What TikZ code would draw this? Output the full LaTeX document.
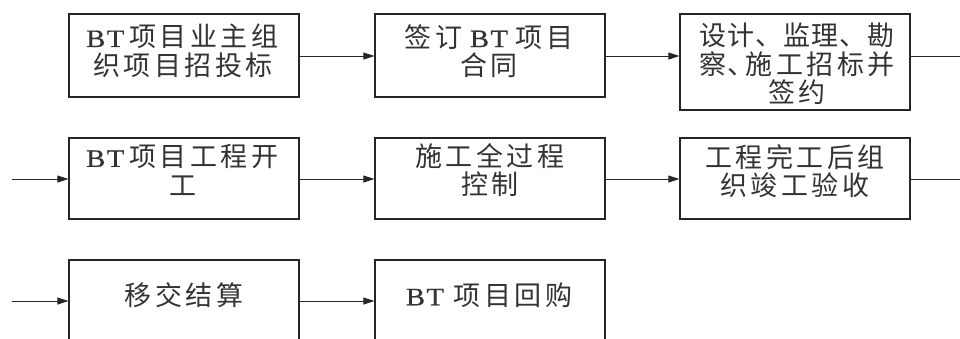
\documentclass[tikz,border=0pt]{standalone}
\usepackage{fontspec}
\setmainfont{Liberation Serif}
\newfontfamily\cjk{Noto Sans CJK SC}
\newfontfamily\btfont[FakeStretch=1.15,FakeBold=0.6]{Liberation Serif}
\usetikzlibrary{arrows.meta}
\newlength\pitch
\setlength\pitch{30.5pt}
\def\spc#1{\ifx#1\relax\else\makebox[\pitch]{#1}\expandafter\spc\fi}
\newcommand\BT{{\btfont\fontsize{25}{28.5}\selectfont B\kern1.5pt T}}
\tikzset{
  box/.style={draw=black!85, line width=1.3pt, minimum width=230pt, inner sep=0pt},
  txt/.style={font=\cjk\fontsize{27}{28.5}\selectfont, align=center, inner sep=0pt, text=black!80},
  arr/.style={line width=0.9pt, draw=black!85, -{Triangle[length=11pt,width=7pt]}},
  lin/.style={line width=0.9pt, draw=black!85}
}
\begin{document}
\begin{tikzpicture}[x=1pt,y=-1pt]
\useasboundingbox (0,0) rectangle (960,338);
\clip (0,0) rectangle (960,338);
% row 1
\node[box, minimum height=83pt] (b1) at (184,55.5) {};
\node[box, minimum height=83pt] (b2) at (490,55.5) {};
\node[box, minimum height=96pt] (b3) at (795,62) {};
\node[txt] (t1) at (183,51) {\BT\kern3pt\spc 项目业主组\relax\\\spc 织项目招投标\relax};
\node[txt] (t2) at (489,51) {\spc 签订\relax\kern6pt\BT\kern6pt\spc 项目\relax\\\spc 合同\relax};
\node[txt] (t3) at (797,64) {\setlength\pitch{28pt}\spc 设计、监理、勘\relax\\\spc 察\relax\makebox[16pt][l]{、}\setlength\pitch{30.5pt}\spc 施工招标并\relax\\\spc 签约\relax};
% row 2
\node[box, minimum height=81pt] (b4) at (184,178.5) {};
\node[box, minimum height=81pt] (b5) at (490,178.5) {};
\node[box, minimum height=81pt] (b6) at (795,178.5) {};
\node[txt] (t4) at (183,170) {\BT\kern3pt\spc 项目工程开\relax\\\spc 工\relax};
\node[txt] (t5) at (490,170) {\spc 施工全过程\relax\\\spc 控制\relax};
\node[txt] (t6) at (795,171) {\spc 工程完工后组\relax\\\spc 织竣工验收\relax};
% row 3
\node[box, minimum height=110pt] (b7) at (184,315) {};
\node[box, minimum height=110pt] (b8) at (490,315) {};
\node[txt] (t7) at (184,295) {\spc 移交结算\relax};
\node[txt] (t8) at (490,295) {\BT\kern8pt\spc 项目回购\relax};
% connectors
\coordinate (o1) at (960,56);
\coordinate (i2) at (12,179);
\coordinate (o2) at (960,179);
\coordinate (i3) at (12,301);
\draw[arr] (b1.east |- 0,56) -- (b2.west |- 0,56);
\draw[arr] (b2.east |- 0,56) -- (b3.west |- 0,56);
\draw[lin] (b3.east |- o1) -- (o1);
\draw[arr] (i2) -- (b4.west |- i2);
\draw[arr] (b4.east |- i2) -- (b5.west |- i2);
\draw[arr] (b5.east |- i2) -- (b6.west |- i2);
\draw[lin] (b6.east |- o2) -- (o2);
\draw[arr] (i3) -- (b7.west |- i3);
\draw[arr] (b7.east |- i3) -- (b8.west |- i3);
\end{tikzpicture}
\end{document}
